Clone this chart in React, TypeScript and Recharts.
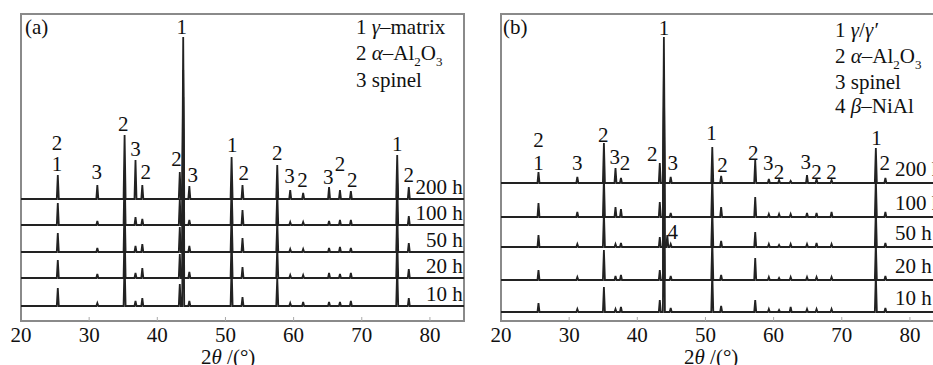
import React from 'react'
import { LineChart, Line, XAxis, YAxis, ReferenceArea, ReferenceDot, ReferenceLine } from 'recharts'

const FONT = "'Liberation Serif', 'DejaVu Serif', serif"
const THETA_DOMAIN: [number, number] = [20, 85]
const TICKS = [20, 30, 40, 50, 60, 70, 80]
const HOURS = ['10 h', '20 h', '50 h', '100 h', '200 h']

// panel (a): peak positions (2θ) and heights per exposure time
const PEAKS_A = [25.4, 31.2, 35.2, 36.8, 37.8, 43.3, 43.8, 44.7, 50.9, 52.5, 57.6, 59.5, 61.4, 65.2, 66.8, 68.4, 75.2, 76.9]
const A_10H = [18, 3, 45, 5, 8, 22, 150, 5, 40, 9, 28, 3, 4, 4, 4, 5, 38, 8]
const A_20H = [18, 4, 50, 5, 10, 24, 150, 6, 40, 11, 30, 3, 3, 5, 4, 5, 40, 9]
const A_50H = [19, 4, 50, 6, 8, 25, 155, 6, 40, 14, 30, 3, 3, 4, 5, 4, 40, 9]
const A_100H = [22, 4, 55, 8, 6, 26, 155, 5, 40, 15, 32, 3, 3, 4, 5, 5, 42, 9]
const A_200H = [24, 14, 64, 39, 14, 27, 162, 13, 42, 14, 34, 9, 6, 12, 9, 8, 44, 12]
const A_OFFSETS = [15, 43, 69, 96, 122]
const ANNOT_A: [number, string, number][] = [
  [25.3, '2', 178], [25.3, '1', 157], [31.1, '3', 149], [35.0, '2', 197], [36.8, '3', 172],
  [38.3, '2', 149], [42.8, '2', 162], [43.6, '1', 294], [45.2, '3', 146], [51.0, '1', 176],
  [52.7, '2', 148], [57.6, '2', 168], [59.4, '3', 145], [61.3, '2', 141], [65.1, '3', 144],
  [66.8, '2', 157], [68.6, '2', 141], [75.2, '1', 177], [76.9, '2', 146],
]

// panel (b)
const PEAKS_B = [25.5, 31.2, 35.1, 36.8, 37.6, 43.3, 43.9, 44.4, 44.9, 51.0, 52.3, 57.3, 59.3, 60.8, 62.5, 64.9, 66.3, 68.5, 75.0, 76.4]
const B_10H = [9, 3, 25, 3, 5, 12, 140, 0, 4, 40, 6, 12, 3, 2, 5, 3, 3, 3, 38, 4]
const B_20H = [10, 3, 30, 4, 5, 10, 140, 0, 4, 40, 5, 22, 3, 2, 3, 3, 3, 3, 38, 4]
const B_50H = [12, 3, 35, 3, 4, 10, 140, 12, 3, 38, 6, 15, 3, 2, 3, 3, 4, 3, 38, 4]
const B_100H = [14, 5, 40, 10, 8, 15, 140, 0, 4, 40, 10, 20, 3, 3, 3, 4, 4, 5, 38, 5]
const B_200H = [11, 6, 40, 15, 5, 20, 146, 0, 6, 36, 7, 23, 4, 3, 2, 8, 4, 3, 35, 5]
const B_OFFSETS = [9, 41, 74, 104, 138]
const ANNOT_B: [number, string, number][] = [
  [25.5, '2', 181], [25.5, '1', 158], [31.2, '3', 158], [35.0, '2', 186], [36.7, '3', 164],
  [38.2, '2', 158], [42.2, '2', 167], [43.9, '1', 293], [45.2, '3', 158], [50.9, '1', 188],
  [52.5, '2', 156], [57.0, '2', 168], [59.2, '3', 158], [60.8, '2', 149], [64.7, '3', 159],
  [66.3, '2', 149], [68.5, '2', 149], [75.1, '1', 183], [76.3, '2', 158], [45.2, '4', 89],
]

function buildTrace(peaks: number[], heights: number[], offset: number) {
  const hw = 0.15
  const pts = [{ x: THETA_DOMAIN[0], y: offset }]
  peaks.forEach((p, i) => {
    pts.push({ x: p - hw, y: offset })
    pts.push({ x: p, y: offset + heights[i] })
    pts.push({ x: p + hw, y: offset })
  })
  pts.push({ x: THETA_DOMAIN[1], y: offset })
  return pts
}

const txt = (t: string, anchor = 'middle') => (p: any) => (
  <text x={p.cx} y={p.cy} textAnchor={anchor} dominantBaseline="central"
    fontSize={21} fontFamily={FONT} fill="#111">{t}</text>
)

function Panel({ peaks, traces, offsets, annots, hourX, hourAnchor, hourLift }: any) {
  return (
    <LineChart width={470} height={365} margin={{ top: 14, right: 6, left: 21, bottom: 0 }}>
      <XAxis dataKey="x" type="number" domain={THETA_DOMAIN} ticks={TICKS} allowDataOverflow
        height={44} axisLine={false} tickSize={0} tickMargin={6}
        tick={{ fontSize: 21, fontFamily: FONT, fill: '#111' }} />
      <YAxis hide domain={[0, 307]} allowDataOverflow />
      <ReferenceArea x1={20} x2={85} y1={0} y2={307} fill="none" stroke="#8a8a8a" strokeWidth={2} />
      {TICKS.slice(1).map((t) => (
        <ReferenceLine key={t} segment={[{ x: t, y: 0 }, { x: t, y: 4 }]} stroke="#aaa" />
      ))}
      {traces.map((h: number[], i: number) => (
        <Line key={i} data={buildTrace(peaks, h, offsets[i])} dataKey="y" type="linear"
          stroke="#222" strokeWidth={1.8} dot={false} isAnimationActive={false} />
      ))}
      {annots.map(([x, t, y]: [number, string, number], i: number) => (
        <ReferenceDot key={'a' + i} x={x} y={y} r={0} shape={txt(t)} />
      ))}
      {HOURS.map((t, i) => (
        <ReferenceDot key={'h' + i} x={hourX} y={offsets[i] + hourLift} r={0} shape={txt(t, hourAnchor)} />
      ))}
    </LineChart>
  )
}

const abs = (left: number, top: number): React.CSSProperties => ({
  position: 'absolute', left, top, fontFamily: FONT, fontSize: 21, color: '#111',
  lineHeight: '24px', whiteSpace: 'nowrap',
})
const Sub = ({ c }: { c: string }) => (
  <span style={{ fontSize: 13, position: 'relative', top: 6 }}>{c}</span>
)

export default function App() {
  return (
    <div style={{ position: 'absolute', left: 0, top: 0, width: 933, height: 365, overflow: 'hidden', background: '#fff' }}>
      <div style={{ position: 'absolute', left: 0, top: 0 }}>
        <Panel peaks={PEAKS_A} traces={[A_10H, A_20H, A_50H, A_100H, A_200H]} offsets={A_OFFSETS}
          annots={ANNOT_A} hourX={84.8} hourAnchor="end" hourLift={12} />
      </div>
      <div style={{ position: 'absolute', left: 480, top: 0 }}>
        <Panel peaks={PEAKS_B} traces={[B_10H, B_20H, B_50H, B_100H, B_200H]} offsets={B_OFFSETS}
          annots={ANNOT_B} hourX={77.8} hourAnchor="start" hourLift={14} />
      </div>
      <div style={abs(25, 15)}>(a)</div>
      <div style={abs(503, 15)}>(b)</div>
      <div style={abs(356, 15)}>1 <i>γ</i>–matrix</div>
      <div style={abs(356, 41)}>2 <i>α</i>–Al<Sub c="2" />O<Sub c="3" /></div>
      <div style={abs(356, 68)}>3 spinel</div>
      <div style={abs(835, 18)}>1 <i>γ</i>/<i>γ′</i></div>
      <div style={abs(835, 44)}>2 <i>α</i>–Al<Sub c="2" />O<Sub c="3" /></div>
      <div style={abs(835, 70)}>3 spinel</div>
      <div style={abs(835, 94)}>4 <i>β</i>–NiAl</div>
      <div style={abs(201, 345)}>2<i>θ</i> /(°)</div>
      <div style={abs(684, 345)}>2<i>θ</i> /(°)</div>
    </div>
  )
}
